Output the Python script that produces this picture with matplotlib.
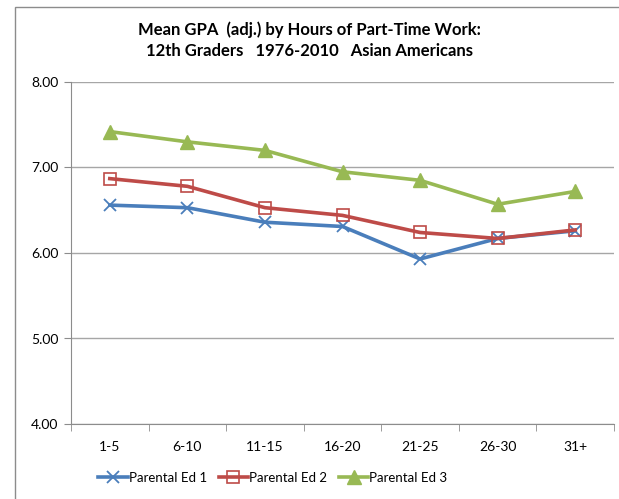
import matplotlib
matplotlib.use("Agg")
import matplotlib.pyplot as plt
from matplotlib.patches import Rectangle

categories = ["1-5", "6-10", "11-15", "16-20", "21-25", "26-30", "31+"]
ed1 = [6.56, 6.53, 6.36, 6.31, 5.93, 6.17, 6.26]
ed2 = [6.87, 6.78, 6.53, 6.44, 6.24, 6.17, 6.27]
ed3 = [7.42, 7.30, 7.20, 6.95, 6.85, 6.57, 6.72]
yticks = [4.0, 5.0, 6.0, 7.0, 8.0]

plt.rcParams['font.family'] = ['Lato', 'DejaVu Sans']

W, H = 619, 499
fig = plt.figure(figsize=(W/100, H/100), dpi=100)
fig.patch.set_facecolor("white")

# outer chart frame (cropped at right/bottom)
fig.add_artist(Rectangle((15/W, -0.1), 2, 1 - 7/H + 0.1, transform=fig.transFigure,
                         fill=False, edgecolor="#8c8c8c", linewidth=1.0))

ax = fig.add_axes([71/W, 1 - 424/H, (614-71)/W, (424-82)/H])
x = list(range(len(categories)))

ax.plot(x, ed1, color="#4A7EBB", lw=2.6, marker="x", ms=9, mew=1.3, mec="#4A7EBB",
        label="Parental Ed 1", zorder=3)
ax.plot(x, ed2, color="#BE4B48", lw=2.6, marker="s", ms=9, mew=1.2, mfc="none",
        mec="#BE4B48", label="Parental Ed 2", zorder=4)
ax.plot(x, ed3, color="#98B954", lw=2.6, marker="^", ms=10, mec="#98B954",
        label="Parental Ed 3", zorder=5)

ax.set_xlim(-0.5, len(categories) - 0.5)
ax.set_ylim(4.0, 8.0)
ax.set_yticks(yticks)
ax.set_yticklabels([f"{v:.2f}" for v in yticks], fontsize=10)
ax.set_xticks(x)
ax.set_xticklabels(categories, fontsize=10)
ax.tick_params(axis="x", length=0, pad=12)
ax.set_xticks([i - 0.5 for i in range(len(categories) + 1)], minor=True)
ax.tick_params(axis="x", which="minor", length=5, color="#8c8c8c", direction="out")
ax.tick_params(axis="y", length=5, color="#8c8c8c", direction="out", pad=4)

ax.yaxis.grid(True, color="#a6a6a6", lw=1.0)
ax.set_axisbelow(True)
for s in ["top", "right"]:
    ax.spines[s].set_visible(False)
for s in ["left", "bottom"]:
    ax.spines[s].set_color("#8c8c8c")

fig.text(0.5, 1 - 30/H, "Mean GPA  (adj.) by Hours of Part-Time Work:", ha="center",
         va="center", fontsize=12, fontweight="bold")
fig.text(0.5, 1 - 51/H, "12th Graders   1976-2010   Asian Americans", ha="center",
         va="center", fontsize=12, fontweight="bold")

fig.legend(loc="center", bbox_to_anchor=(273/W, 1 - 478/H), ncol=3, frameon=False,
           fontsize=9.5, handlelength=2.2, columnspacing=0.9, handletextpad=0.1,
           borderpad=0.0)

fig.savefig("out.png", dpi=100)
